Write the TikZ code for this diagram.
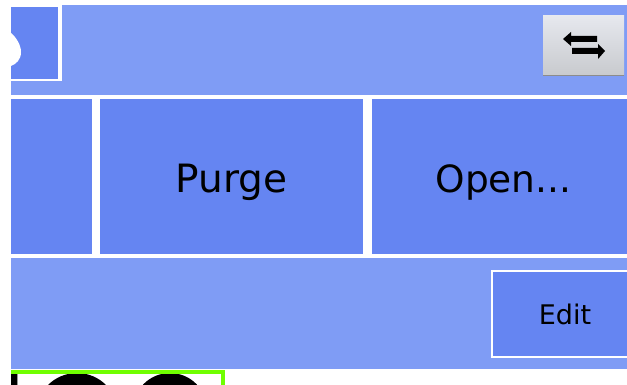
\documentclass[tikz,border=0pt]{standalone}
\usepackage{fontspec}
\setmainfont{DejaVu Sans}
\definecolor{panel}{HTML}{7F9CF5}
\definecolor{cell}{HTML}{6585F2}
\definecolor{lime}{HTML}{70FF00}
\definecolor{btntop}{HTML}{E6E8EE}
\definecolor{btnbot}{HTML}{C8CACE}
\tikzset{
  biglabel/.style={text=black,inner sep=0pt,anchor=base},
  smalllabel/.style={font=\fontsize{27}{27}\selectfont,text=black,inner sep=0pt,anchor=base}
}
\begin{document}
\begin{tikzpicture}[x=1pt,y=-1pt]
\useasboundingbox (0,0) rectangle (627,385);
\fill[white] (0,0) rectangle (627,385);
% panel
\fill[panel] (62,5) rectangle (627,95);
\fill[panel] (11,81.5) rectangle (62,95);
\fill[panel] (11,258) rectangle (627,369);
% top-left cell
\fill[cell] (11,7) rectangle (57.5,79);
\fill[white] (11,33) .. controls (16,37) and (21,45) .. (21,52) .. controls (21,60) and (16,64) .. (11,66) -- cycle;
% row cells
\fill[cell] (11,99) rectangle (91.5,254);
\fill[cell] (100,99) rectangle (363,254);
\fill[cell] (372,99) rectangle (627,254);
\node[biglabel,font=\fontsize{39}{39}\selectfont] (purge) at (231.5,193) {Purge};
\node[biglabel,font=\fontsize{37.5}{37.5}\selectfont] (open) at (503.5,193) {Open...};
% edit cell
\fill[white] (490.7,270) rectangle (627,358);
\fill[cell] (492.7,272) rectangle (627,355.7);
\node[smalllabel] (edit) at (565,324.5) {Edit};
% swap button
\shade[top color=btntop,bottom color=btnbot,draw=none] (543,16) rectangle (624,75);
\draw[black!45,line width=0.5pt] (543,75) -- (624,75);
\fill[black] (563,39) -- (571,32) -- (571,36) -- (597,36) -- (597,42) -- (571,42) -- (571,46) -- cycle;
\fill[black] (605,51) -- (598,44) -- (598,48) -- (572,48) -- (572,54) -- (598,54) -- (598,59) -- cycle;
% bottom green box
\begin{scope}
\clip (0,0) rectangle (627,385);
\fill[white] (11,370) rectangle (225,385);
\fill[black] (77,414) circle [radius=41];
\fill[black] (170,410) circle [radius=37];
\fill[lime] (11,370) rectangle (225,374);
\fill[lime] (221,370) rectangle (225,385);
\fill[black] (11,374) rectangle (17,385);
\fill[black!40] (17,374) rectangle (18,385);
\end{scope}
\end{tikzpicture}
\end{document}
